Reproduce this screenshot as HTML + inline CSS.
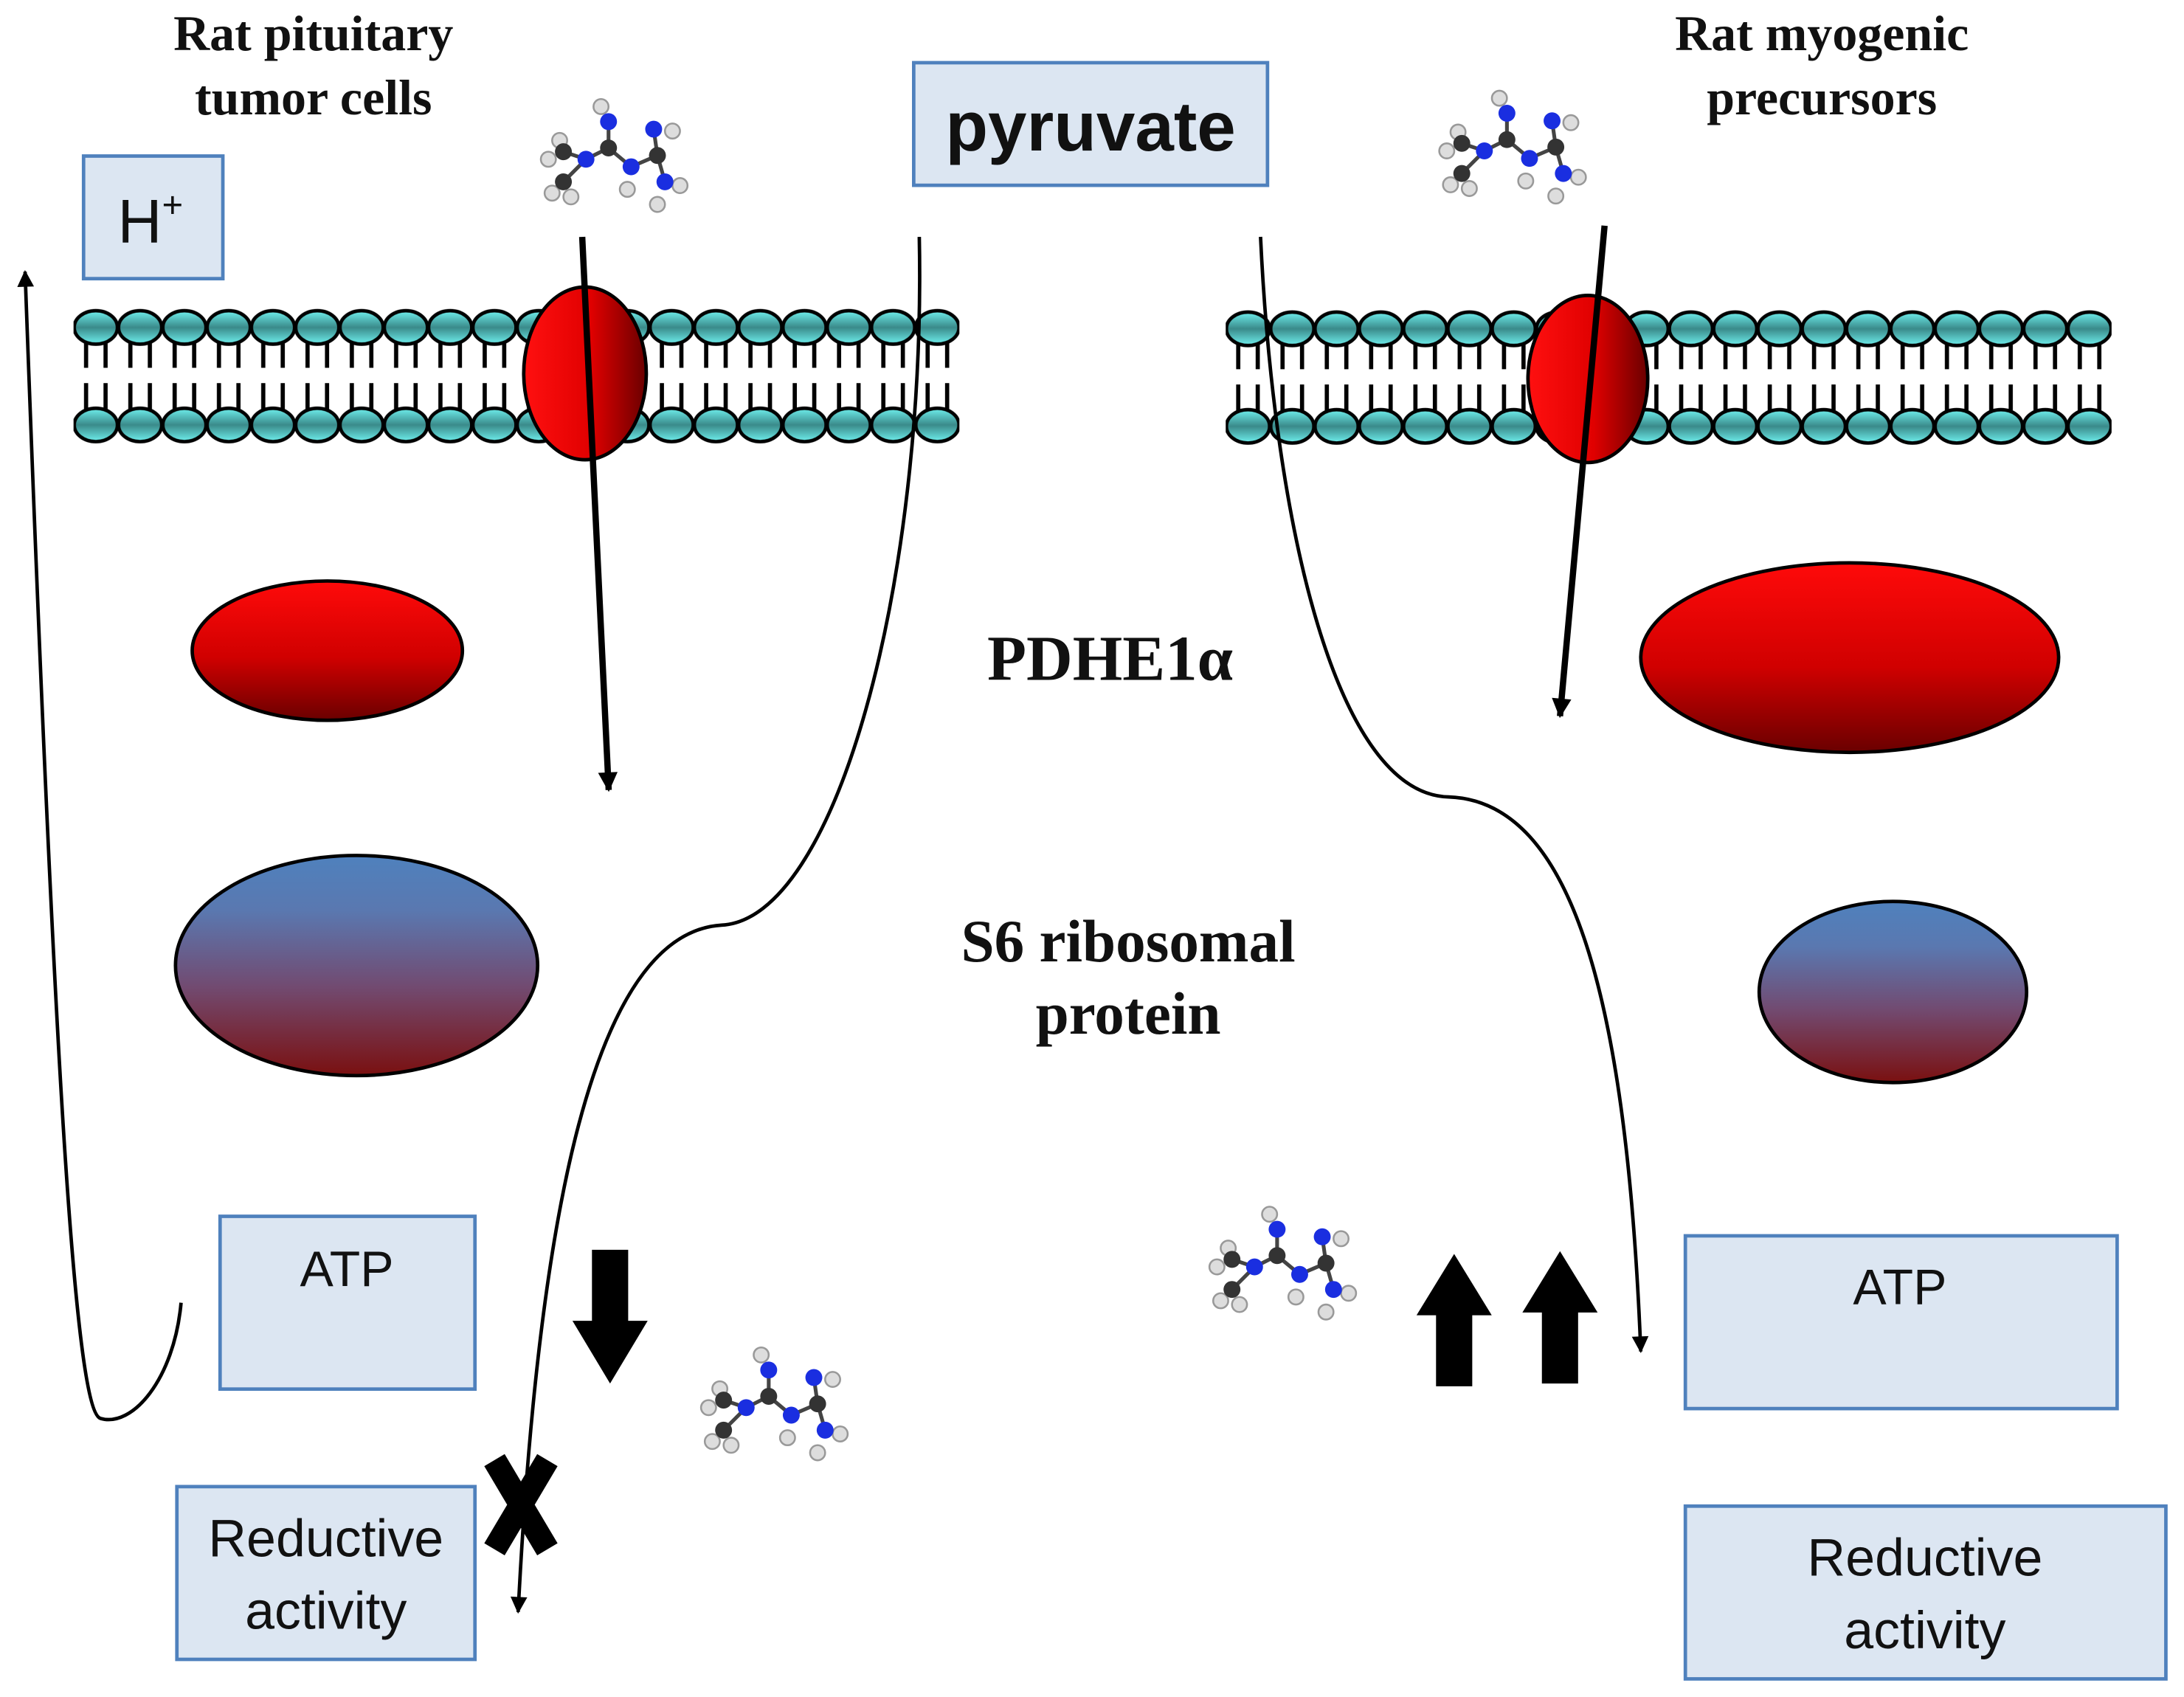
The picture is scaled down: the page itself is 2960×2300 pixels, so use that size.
<!DOCTYPE html>
<html><head><meta charset="utf-8"><style>html,body{margin:0;padding:0;background:#fff}svg{display:block}</style></head>
<body>
<svg width="2960" height="2300" viewBox="0 0 1568 1218" preserveAspectRatio="none" xmlns="http://www.w3.org/2000/svg">
<defs>
<linearGradient id="head" x1="0" y1="0" x2="0" y2="1"><stop offset="0" stop-color="#6ff0ee"/><stop offset="0.5" stop-color="#3a8a8a"/><stop offset="1" stop-color="#6ff0ee"/></linearGradient>
<linearGradient id="chan" x1="0" y1="0" x2="1" y2="0"><stop offset="0" stop-color="#ff1010"/><stop offset="0.55" stop-color="#e00000"/><stop offset="1" stop-color="#6a0000"/></linearGradient>
<linearGradient id="red" x1="0" y1="0" x2="0" y2="1"><stop offset="0" stop-color="#ff0a0a"/><stop offset="0.55" stop-color="#d00000"/><stop offset="1" stop-color="#6a0000"/></linearGradient>
<linearGradient id="blue" x1="0" y1="0" x2="0" y2="1"><stop offset="0" stop-color="#4f81bd"/><stop offset="0.25" stop-color="#5a78b0"/><stop offset="0.6" stop-color="#724a70"/><stop offset="1" stop-color="#7a1010"/></linearGradient>
<pattern id="lip" x="52.8" y="221" width="31.8" height="100" patternUnits="userSpaceOnUse">
<line x1="9" y1="14" x2="9" y2="43" stroke="#000" stroke-width="3"/><line x1="23" y1="14" x2="23" y2="43" stroke="#000" stroke-width="3"/>
<line x1="9" y1="54" x2="9" y2="82" stroke="#000" stroke-width="3"/><line x1="23" y1="54" x2="23" y2="82" stroke="#000" stroke-width="3"/>
<ellipse cx="16" cy="14" rx="15.5" ry="12" fill="url(#head)" stroke="#000" stroke-width="2.5"/>
<ellipse cx="16" cy="84" rx="15.5" ry="12" fill="url(#head)" stroke="#000" stroke-width="2.5"/>
</pattern>
<pattern id="lip2" x="880" y="222" width="31.8" height="100" patternUnits="userSpaceOnUse">
<line x1="9" y1="14" x2="9" y2="43" stroke="#000" stroke-width="3"/><line x1="23" y1="14" x2="23" y2="43" stroke="#000" stroke-width="3"/>
<line x1="9" y1="54" x2="9" y2="82" stroke="#000" stroke-width="3"/><line x1="23" y1="54" x2="23" y2="82" stroke="#000" stroke-width="3"/>
<ellipse cx="16" cy="14" rx="15.5" ry="12" fill="url(#head)" stroke="#000" stroke-width="2.5"/>
<ellipse cx="16" cy="84" rx="15.5" ry="12" fill="url(#head)" stroke="#000" stroke-width="2.5"/>
</pattern>
<g id="mol0">
<g stroke="#444" stroke-width="2">
<line x1="-30" y1="-6" x2="-18" y2="-2"/><line x1="-18" y1="-2" x2="-30" y2="10"/><line x1="-18" y1="-2" x2="-6" y2="-8"/>
<line x1="-6" y1="-8" x2="-6" y2="-22"/><line x1="-6" y1="-8" x2="6" y2="2"/><line x1="6" y1="2" x2="20" y2="-4"/>
<line x1="20" y1="-4" x2="18" y2="-18"/><line x1="20" y1="-4" x2="24" y2="10"/>
</g>
<circle cx="-38" cy="-2" r="4" fill="#ddd" stroke="#999"/><circle cx="-32" cy="-12" r="4" fill="#ddd" stroke="#999"/>
<circle cx="-36" cy="16" r="4" fill="#ddd" stroke="#999"/><circle cx="-26" cy="18" r="4" fill="#ddd" stroke="#999"/>
<circle cx="-10" cy="-30" r="4" fill="#ddd" stroke="#999"/><circle cx="4" cy="14" r="4" fill="#ddd" stroke="#999"/>
<circle cx="28" cy="-17" r="4" fill="#ddd" stroke="#999"/><circle cx="32" cy="12" r="4" fill="#ddd" stroke="#999"/><circle cx="20" cy="22" r="4" fill="#ddd" stroke="#999"/>
<circle cx="-30" cy="-6" r="4.5" fill="#333"/><circle cx="-30" cy="10" r="4.5" fill="#333"/>
<circle cx="-18" cy="-2" r="4.5" fill="#1a2ee0"/><circle cx="-6" cy="-8" r="4.5" fill="#333"/>
<circle cx="-6" cy="-22" r="4.5" fill="#1a2ee0"/><circle cx="6" cy="2" r="4.5" fill="#1a2ee0"/>
<circle cx="20" cy="-4" r="4.5" fill="#333"/><circle cx="18" cy="-18" r="4.5" fill="#1a2ee0"/><circle cx="24" cy="10" r="4.5" fill="#1a2ee0"/>
</g>
<g id="mol"><use href="#mol0" transform="scale(1.35)"/></g>
<marker id="ah" viewBox="0 0 10 10" refX="9" refY="5" markerWidth="14" markerHeight="12" markerUnits="userSpaceOnUse" orient="auto"><path d="M0,0L10,5L0,10z" fill="#000"/></marker>
<marker id="ah2" viewBox="0 0 10 10" refX="9" refY="5" markerWidth="16" markerHeight="14" markerUnits="userSpaceOnUse" orient="auto"><path d="M0,0L10,5L0,10z" fill="#000"/></marker>
</defs>

<rect x="52.8" y="221" width="636" height="100" fill="url(#lip)"/>
<rect x="880" y="222" width="636" height="100" fill="url(#lip2)"/>

<ellipse cx="420" cy="268" rx="44" ry="62" fill="url(#chan)" stroke="#000" stroke-width="2.5"/>
<ellipse cx="1140" cy="272" rx="43" ry="60" fill="url(#chan)" stroke="#000" stroke-width="2.5"/>

<g font-family="Liberation Serif, serif" font-weight="bold" text-anchor="middle" fill="#111">
<text x="225" y="36" font-size="36">Rat pituitary</text><text x="225" y="82" font-size="36">tumor cells</text>
<text x="1308" y="36" font-size="36">Rat myogenic</text><text x="1308" y="82" font-size="36">precursors</text>
<text x="797" y="488" font-size="46">PDHE1α</text>
<text x="810" y="690" font-size="43">S6 ribosomal</text><text x="810" y="742" font-size="43">protein</text>
</g>

<g fill="#dce6f2" stroke="#4f81bd" stroke-width="2.5">
<rect x="60" y="112" width="100" height="88"/>
<rect x="656" y="45" width="254" height="88"/>
<rect x="158" y="873" width="183" height="124"/>
<rect x="127" y="1067" width="214" height="124"/>
<rect x="1210" y="887" width="310" height="124"/>
<rect x="1210" y="1081" width="345" height="124"/>
</g>
<g font-family="Liberation Sans, sans-serif" fill="#111" text-anchor="middle">
<text x="108" y="174" font-size="44">H<tspan font-size="26" dy="-18">+</tspan></text>
<text x="783" y="108" font-size="50" font-weight="bold">pyruvate</text>
<text x="249" y="923" font-size="36">ATP</text>
<text x="234" y="1117" font-size="38">Reductive</text><text x="234" y="1169" font-size="38">activity</text>
<text x="1364" y="936" font-size="36">ATP</text>
<text x="1382" y="1131" font-size="38">Reductive</text><text x="1382" y="1183" font-size="38">activity</text>
</g>

<ellipse cx="235" cy="467" rx="97" ry="50" fill="url(#red)" stroke="#000" stroke-width="2.5"/>
<ellipse cx="256" cy="693" rx="130" ry="79" fill="url(#blue)" stroke="#000" stroke-width="2.5"/>
<ellipse cx="1328" cy="472" rx="150" ry="68" fill="url(#red)" stroke="#000" stroke-width="2.5"/>
<ellipse cx="1359" cy="712" rx="96" ry="65" fill="url(#blue)" stroke="#000" stroke-width="2.5"/>

<g fill="none" stroke="#000">
<path d="M130,935 C125,990 95,1025 72,1018 C55,1012 40,800 18,195" stroke-width="2.5" marker-end="url(#ah)"/>
<line x1="418" y1="170" x2="437" y2="567" stroke-width="4.5" marker-end="url(#ah2)"/>
<path d="M660,170 C665,420 600,660 518,664 C420,670 385,900 372,1157" stroke-width="2.5" marker-end="url(#ah)"/>
<path d="M905,170 C915,380 960,570 1040,572 C1130,575 1168,720 1178,970" stroke-width="2.5" marker-end="url(#ah)"/>
<line x1="1152" y1="162" x2="1120" y2="514" stroke-width="4.5" marker-end="url(#ah2)"/>
</g>

<path d="M425,897 H451 V948 H465 L438,993 L411,948 H425 Z" fill="#000"/>
<path d="M1031,995 H1057 V944 H1071 L1044,900 L1017,944 H1031 Z" fill="#000"/>
<path d="M1107,993 H1133 V942 H1147 L1120,898 L1093,942 H1107 Z" fill="#000"/>
<g stroke="#000" stroke-width="17"><line x1="355" y1="1048" x2="393" y2="1112"/><line x1="393" y1="1048" x2="355" y2="1112"/></g>

<use href="#mol" x="445" y="117"/>
<use href="#mol" x="1090" y="111"/>
<use href="#mol" x="925" y="912"/>
<use href="#mol" x="560" y="1013"/>
</svg>
</body></html>
